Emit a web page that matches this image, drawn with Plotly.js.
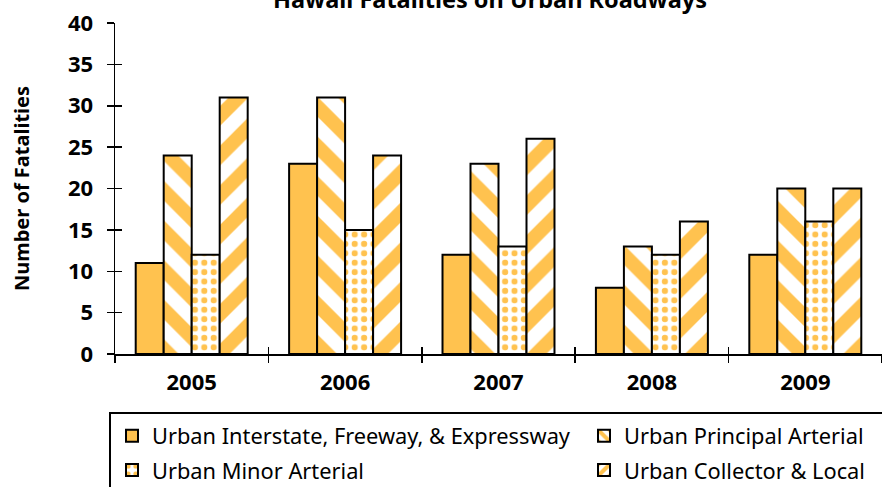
<!DOCTYPE html>
<html>
<head>
<meta charset="utf-8">
<script src="https://cdn.plot.ly/plotly-3.0.1.min.js"></script>
<style>html,body{margin:0;padding:0;background:#fff;}</style>
</head>
<body>
<div id="chart" style="width:882px;height:487px;"></div>
<script>
const years = ["2005", "2006", "2007", "2008", "2009"];
const interstate = [11, 23, 12, 8, 12];
const principal = [24, 31, 23, 13, 20];
const minor = [12, 15, 13, 12, 16];
const collector = [31, 24, 26, 16, 20];
const seriesNames = [
  "Urban Interstate, Freeway, & Expressway",
  "Urban Principal Arterial",
  "Urban Minor Arterial",
  "Urban Collector & Local"
];
const yTicks = [0, 5, 10, 15, 20, 25, 30, 35, 40];

const gold = "#FFC24F";
const FONT = "Noto Sans, sans-serif";
const line = {color: "#000", width: 2};

function bar(name, vals, pattern, legendRef) {
  const m = {color: pattern ? "#fff" : gold, line: line};
  if (pattern) m.pattern = pattern;
  return {type: "bar", name: name, x: years, y: vals, marker: m, hoverinfo: "y",
          legend: legendRef, legendgroup: name};
}
function pat(shape, size, solidity) {
  return {shape: shape, fgcolor: gold, bgcolor: "#fff", size: size, solidity: solidity,
          fillmode: "replace", fgopacity: 1};
}

const data = [
  bar(seriesNames[0], interstate, null, "legend"),
  bar(seriesNames[1], principal, pat("\\", 28, 0.5), "legend2"),
  bar(seriesNames[2], minor, pat(".", 9.4, 0.33), "legend"),
  bar(seriesNames[3], collector, pat("/", 28, 0.5), "legend2")
];

// dummy invisible trace so overlay axes (crossing ticks) render
data.push({type: "scatter", x: [0], y: [0], xaxis: "x2", yaxis: "y2", mode: "markers",
           marker: {opacity: 0}, showlegend: false, hoverinfo: "skip"});

const legendCommon = {orientation: "v", xanchor: "left", yref: "container", y: (487 - 415) / 487, yanchor: "top",
  borderwidth: 0, bgcolor: "rgba(0,0,0,0)",
  font: {family: FONT, size: 21.8, color: "#000"},
  traceorder: "grouped", tracegroupgap: 3, itemwidth: 30};

const layout = {
  width: 882, height: 487,
  margin: {l: 115, r: 0, t: 23, b: 133, pad: 0, autoexpand: false},
  paper_bgcolor: "#fff", plot_bgcolor: "#fff",
  barmode: "group", bargap: 0.27, bargroupgap: 0,
  font: {family: FONT, color: "#000"},
  title: {text: "<b>Hawaii Fatalities on Urban Roadways</b>", font: {family: FONT, size: 23.5, color: "#000"},
          x: 490/882, xanchor: "center", xref: "container", y: 1, yanchor: "middle", yref: "container"},
  xaxis: {type: "category", showline: true, linecolor: "#000", linewidth: 1.5,
          ticks: "outside", ticklen: 7, tickwidth: 1.5, tickcolor: "#000", tickson: "boundaries",
          tickfont: {family: FONT, size: 22, color: "#000", weight: "bold"}, showgrid: false, zeroline: false,
          range: [-0.5, 4.5], ticklabelstandoff: 8},
  yaxis: {range: [0, 40], tickvals: yTicks, ticktext: yTicks.map(String), showline: true, linecolor: "#000", linewidth: 1.5,
          ticks: "outside", ticklen: 7, tickwidth: 1.5, tickcolor: "#000",
          tickfont: {family: FONT, size: 22, color: "#000", weight: "bold"}, showgrid: false, zeroline: false,
          ticklabelstandoff: 9,
          title: {text: "<b>Number of Fatalities</b>", font: {family: FONT, size: 20, color: "#000"}, standoff: 33}},
  xaxis2: {overlaying: "x", anchor: "y", range: [-0.5, 4.5], tick0: -0.5, dtick: 1, ticks: "inside", ticklen: 7,
           tickwidth: 1.5, tickcolor: "#000", showticklabels: false, showgrid: false, zeroline: false, showline: false},
  yaxis2: {overlaying: "y", anchor: "x", side: "left", range: [0, 40], tickvals: yTicks, ticks: "inside", ticklen: 7,
           tickwidth: 1.5, tickcolor: "#000", showticklabels: false, showgrid: false, zeroline: false, showline: false},
  showlegend: true,
  legend: Object.assign({}, legendCommon, {x: -3/767}),
  legend2: Object.assign({}, legendCommon, {x: 469/767}),
  shapes: [{type: "rect", xref: "paper", yref: "paper", x0: -5/767, x1: 1.02, y0: -59/331, y1: -145/331,
            line: {color: "#000", width: 2}, fillcolor: "rgba(0,0,0,0)", layer: "below"}]
};

Plotly.newPlot("chart", data, layout, {staticPlot: true});
</script>
</body>
</html>
